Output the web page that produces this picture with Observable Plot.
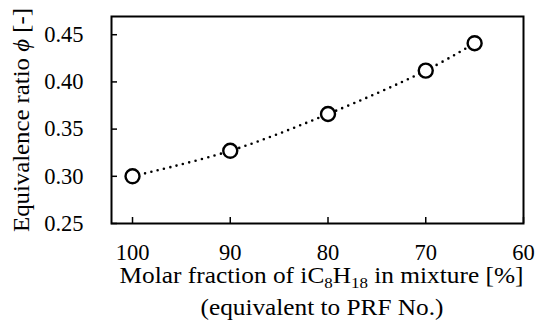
<!DOCTYPE html>
<html><head><meta charset="utf-8">
<script src="https://cdn.jsdelivr.net/npm/d3@7"></script>
<script src="https://cdn.jsdelivr.net/npm/@observablehq/plot@0.6"></script>
<style>body{margin:0;background:#fff}</style>
</head><body><div id="chart"></div>
<script>
const molarFraction = [100, 90, 80, 70, 65];
const equivalenceRatio = [0.300, 0.327, 0.366, 0.412, 0.441];
const xTicks = [100, 90, 80, 70, 60];
const yTicks = [0.25, 0.30, 0.35, 0.40, 0.45];
const xLabel1 = "Molar fraction of iC8H18 in mixture [%]";
const xLabel2 = "(equivalent to PRF No.)";
const yLabel = "Equivalence ratio ϕ [-]";

const data = molarFraction.map((x, i) => ({x, y: equivalenceRatio[i]}));
const FONT = "'Liberation Serif', 'Times New Roman', serif";

const chart = Plot.plot({
  width: 540, height: 320,
  marginLeft: 111, marginRight: 17, marginTop: 16, marginBottom: 97,
  style: {fontFamily: FONT, fontSize: "22px", color: "#000", background: "#fff"},
  x: {domain: [102.15, 60], ticks: xTicks},
  y: {domain: [0.25, 0.4693], ticks: yTicks},
  marks: [
    Plot.frame({stroke: "#000", strokeWidth: 2}),
    Plot.axisX({ticks: xTicks, tickSize: -6, tickPadding: 26.5, tickFormat: d => d, label: null, stroke: "#000", fill: "#000", strokeWidth: 1.5, fontSize: 22.5, fontFamily: FONT}),
    Plot.axisY({ticks: yTicks, tickSize: -6, tickPadding: 34, tickFormat: d3.format(".2f"), label: null, stroke: "#000", fill: "#000", strokeWidth: 1.5, fontSize: 22.5, fontFamily: FONT}),
    Plot.line(data, {x: "x", y: "y", curve: "catmull-rom", stroke: "#000", strokeWidth: 2.6, strokeDasharray: "0,6.5", strokeLinecap: "round"}),
    Plot.dot(data, {x: "x", y: "y", r: 7, stroke: "#000", strokeWidth: 2.4, fill: "#fff"}),
    Plot.text([yLabel], {frameAnchor: "left", textAnchor: "middle", lineAnchor: "middle", rotate: -90, dx: -90, text: d => d, fill: "#000", fontSize: 22.5, fontFamily: FONT}),
    Plot.text([xLabel1], {frameAnchor: "bottom", lineAnchor: "middle", dx: 4, dy: 52.3, text: d => d, fill: "#000", fontSize: 22.5, fontFamily: FONT}),
    Plot.text([xLabel2], {frameAnchor: "bottom", lineAnchor: "middle", dx: 4.5, dy: 84, text: d => d, fill: "#000", fontSize: 22.5, fontFamily: FONT})
  ]
});
document.getElementById("chart").appendChild(chart);

// subscripts in the x label, italic phi, and the wider label lettering
d3.select(chart).selectAll("text").each(function() {
  const t = d3.select(this);
  const tx = this.textContent;
  if (tx === xLabel1) {
    t.text(null);
    t.append("tspan").text("Molar fraction of iC");
    t.append("tspan").attr("baseline-shift", "-5").attr("font-size", 15).text("8");
    t.append("tspan").text("H");
    t.append("tspan").attr("baseline-shift", "-5").attr("font-size", 15).text("18");
    t.append("tspan").text(" in mixture [%]");
    t.attr("textLength", 404).attr("lengthAdjust", "spacingAndGlyphs");
  } else if (tx === xLabel2) {
    t.attr("textLength", 243).attr("lengthAdjust", "spacingAndGlyphs");
  } else if (tx === yLabel) {
    t.text(null);
    t.append("tspan").text("Equivalence ratio ");
    t.append("tspan").attr("font-style", "italic").text("ϕ");
    t.append("tspan").text(" [-]");
    t.attr("textLength", 224).attr("lengthAdjust", "spacingAndGlyphs");
  }
});
</script>
</body></html>
